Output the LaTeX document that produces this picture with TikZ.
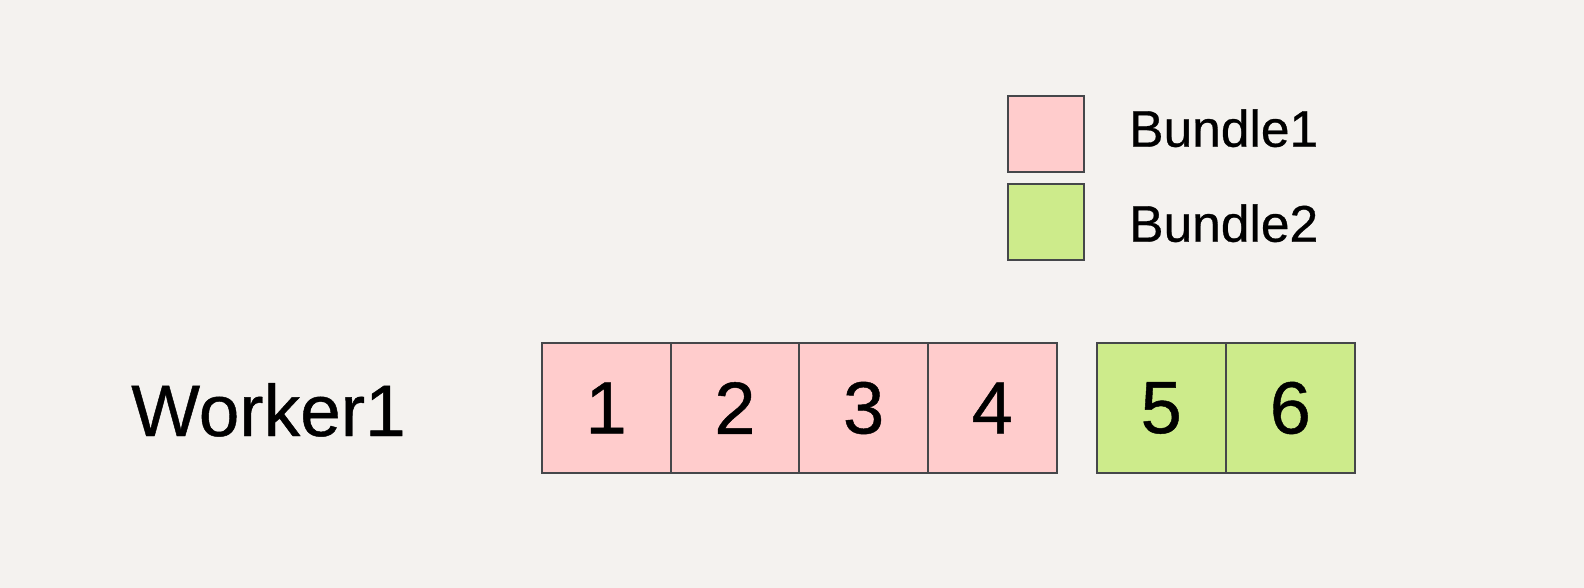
\documentclass[tikz,border=0pt]{standalone}
\usepackage{fontspec}
\setmainfont{Liberation Sans}[FakeBold=0.6]
\definecolor{bg}{HTML}{F4F2EF}
\definecolor{pinkf}{HTML}{FFCCCC}
\definecolor{greenf}{HTML}{CDEB8B}
\definecolor{edge}{HTML}{45474A}
\tikzset{
  cell/.style={draw=edge, line width=2pt, minimum width=128.8pt, minimum height=129.4pt, inner sep=0pt, font=\fontsize{74}{74}\selectfont, anchor=center},
  pinkcell/.style={cell, fill=pinkf},
  greencell/.style={cell, fill=greenf, minimum width=129.1pt},
  legbox/.style={draw=edge, line width=2pt, fill=#1, minimum width=76.3pt, minimum height=75.7pt, inner sep=0pt},
  legtext/.style={anchor=base west, inner sep=0pt, font=\fontsize{51.5}{51.5}\selectfont},
}
\begin{document}
\begin{tikzpicture}[x=1pt,y=-1pt]
\fill[bg] (0,0) rectangle (1584,588);
\useasboundingbox (0,0) rectangle (1584,588);
% legend
\node[legbox=pinkf] (lp) at (1045.85,133.85) {};
\node[legbox=greenf] (lg) at (1045.85,221.85) {};
\node[legtext] (t1) at (1129,146.7) {Bundle1};
\node[legtext] (t2) at (1129,241.7) {Bundle2};
% worker
\node[anchor=base west, inner sep=0pt, font=\fontsize{73}{73}\selectfont] (w) at (131,436) {Worker1};
% cells
\node[pinkcell] (c1) at (606.1,408) {\raisebox{-3pt}{1}};
\node[pinkcell] (c2) at (734.9,408) {\raisebox{-3pt}{2}};
\node[pinkcell] (c3) at (863.6,408) {\raisebox{-3pt}{3}};
\node[pinkcell] (c4) at (992.3,408) {\raisebox{-3pt}{4}};
\node[greencell] (c5) at (1161.2,408) {\raisebox{-3pt}{5}};
\node[greencell] (c6) at (1290.3,408) {\raisebox{-3pt}{6}};
\end{tikzpicture}
\end{document}
